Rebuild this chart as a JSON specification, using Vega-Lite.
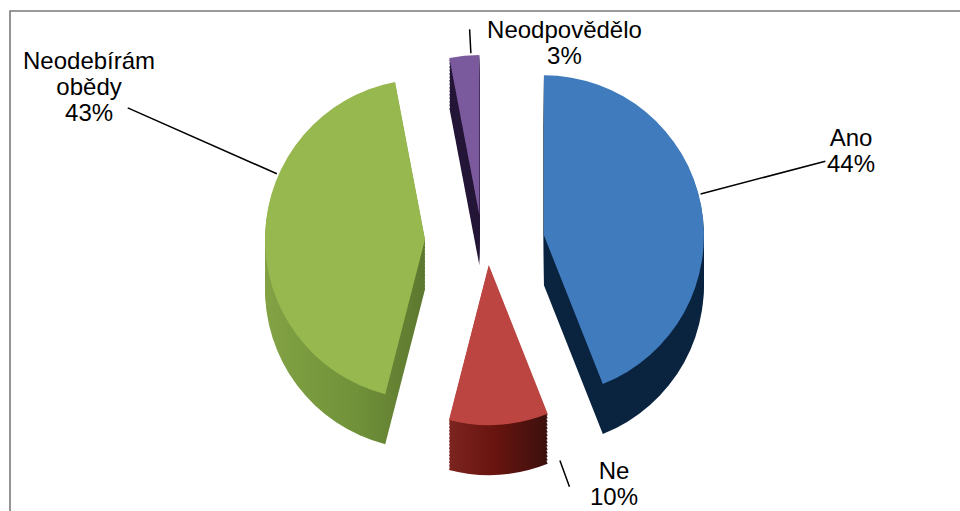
{
  "$schema": "https://vega.github.io/schema/vega-lite/v6.json",
  "width": 960,
  "height": 511,
  "autosize": {"type": "fit", "contains": "padding"},
  "padding": {"left": 9, "top": 10, "right": -2, "bottom": -2},
  "background": "white",
  "config": {"view": {"stroke": null}},
  "params": [
    {"name": "bocniBarvy", "value": {
      "Ano": "#0a2440",
      "Ne": {"gradient": "linear", "x1": 0, "y1": 0, "x2": 1, "y2": 0, "stops": [{"offset": 0, "color": "#7b2420"}, {"offset": 0.45, "color": "#6a140f"}, {"offset": 1, "color": "#3b100d"}]},
      "Neodebírám obědy": {"gradient": "linear", "x1": 0, "y1": 0, "x2": 1, "y2": 0, "stops": [{"offset": 0, "color": "#82a244"}, {"offset": 0.55, "color": "#72923a"}, {"offset": 1, "color": "#5c782f"}]},
      "Neodpovědělo": "#241637"
    }}
  ],
  "data": {
    "values": [
      {"poradi": 1, "kategorie": "Ano", "podil": 44},
      {"poradi": 2, "kategorie": "Ne", "podil": 10},
      {"poradi": 3, "kategorie": "Neodebírám obědy", "podil": 43},
      {"poradi": 4, "kategorie": "Neodpovědělo", "podil": 3}
    ]
  },
  "transform": [
    {"window": [{"op": "sum", "field": "podil", "as": "konec"}], "sort": [{"field": "poradi"}], "frame": [null, 0]},
    {"calculate": "datum.konec - datum.podil", "as": "zacatek"},
    {"calculate": "datum.konec - datum.podil / 2", "as": "stred"},
    {"calculate": "split(datum.kategorie + ' ' + datum.podil + '%', ' ')", "as": "popisek"}
  ],
  "layer": [
    {"transform": [{"filter": "datum.poradi === 1"}],
     "mark": {"type": "rect", "filled": false, "stroke": "#7a7a7a", "strokeWidth": 1.6},
     "encoding": {}},

    {"mark": {"type": "arc", "radius": 160, "xOffset": {"expr": "60*sin(PI*datum.stred/50) - 0.5"}, "yOffset": {"expr": "28.5 - 25*cos(PI*datum.stred/50)"}, "fill": {"expr": "bocniBarvy[datum.kategorie]"}},
     "encoding": {"theta": {"field": "zacatek", "type": "quantitative", "scale": {"domain": [0, 100], "range": [0, 6.283185307179586]}}, "theta2": {"field": "konec"}}},
    {"mark": {"type": "arc", "radius": 160, "xOffset": {"expr": "60*sin(PI*datum.stred/50) - 0.5"}, "yOffset": {"expr": "25 - 25*cos(PI*datum.stred/50)"}, "fill": {"expr": "bocniBarvy[datum.kategorie]"}},
     "encoding": {"theta": {"field": "zacatek", "type": "quantitative"}, "theta2": {"field": "konec"}}},
    {"mark": {"type": "arc", "radius": 160, "xOffset": {"expr": "60*sin(PI*datum.stred/50) - 0.5"}, "yOffset": {"expr": "21.5 - 25*cos(PI*datum.stred/50)"}, "fill": {"expr": "bocniBarvy[datum.kategorie]"}},
     "encoding": {"theta": {"field": "zacatek", "type": "quantitative"}, "theta2": {"field": "konec"}}},
    {"mark": {"type": "arc", "radius": 160, "xOffset": {"expr": "60*sin(PI*datum.stred/50) - 0.5"}, "yOffset": {"expr": "18 - 25*cos(PI*datum.stred/50)"}, "fill": {"expr": "bocniBarvy[datum.kategorie]"}},
     "encoding": {"theta": {"field": "zacatek", "type": "quantitative"}, "theta2": {"field": "konec"}}},
    {"mark": {"type": "arc", "radius": 160, "xOffset": {"expr": "60*sin(PI*datum.stred/50) - 0.5"}, "yOffset": {"expr": "14.5 - 25*cos(PI*datum.stred/50)"}, "fill": {"expr": "bocniBarvy[datum.kategorie]"}},
     "encoding": {"theta": {"field": "zacatek", "type": "quantitative"}, "theta2": {"field": "konec"}}},
    {"mark": {"type": "arc", "radius": 160, "xOffset": {"expr": "60*sin(PI*datum.stred/50) - 0.5"}, "yOffset": {"expr": "11 - 25*cos(PI*datum.stred/50)"}, "fill": {"expr": "bocniBarvy[datum.kategorie]"}},
     "encoding": {"theta": {"field": "zacatek", "type": "quantitative"}, "theta2": {"field": "konec"}}},
    {"mark": {"type": "arc", "radius": 160, "xOffset": {"expr": "60*sin(PI*datum.stred/50) - 0.5"}, "yOffset": {"expr": "7.5 - 25*cos(PI*datum.stred/50)"}, "fill": {"expr": "bocniBarvy[datum.kategorie]"}},
     "encoding": {"theta": {"field": "zacatek", "type": "quantitative"}, "theta2": {"field": "konec"}}},
    {"mark": {"type": "arc", "radius": 160, "xOffset": {"expr": "60*sin(PI*datum.stred/50) - 0.5"}, "yOffset": {"expr": "4 - 25*cos(PI*datum.stred/50)"}, "fill": {"expr": "bocniBarvy[datum.kategorie]"}},
     "encoding": {"theta": {"field": "zacatek", "type": "quantitative"}, "theta2": {"field": "konec"}}},
    {"mark": {"type": "arc", "radius": 160, "xOffset": {"expr": "60*sin(PI*datum.stred/50) - 0.5"}, "yOffset": {"expr": "0.5 - 25*cos(PI*datum.stred/50)"}, "fill": {"expr": "bocniBarvy[datum.kategorie]"}},
     "encoding": {"theta": {"field": "zacatek", "type": "quantitative"}, "theta2": {"field": "konec"}}},
    {"mark": {"type": "arc", "radius": 160, "xOffset": {"expr": "60*sin(PI*datum.stred/50) - 0.5"}, "yOffset": {"expr": "-3 - 25*cos(PI*datum.stred/50)"}, "fill": {"expr": "bocniBarvy[datum.kategorie]"}},
     "encoding": {"theta": {"field": "zacatek", "type": "quantitative"}, "theta2": {"field": "konec"}}},
    {"mark": {"type": "arc", "radius": 160, "xOffset": {"expr": "60*sin(PI*datum.stred/50) - 0.5"}, "yOffset": {"expr": "-6.5 - 25*cos(PI*datum.stred/50)"}, "fill": {"expr": "bocniBarvy[datum.kategorie]"}},
     "encoding": {"theta": {"field": "zacatek", "type": "quantitative"}, "theta2": {"field": "konec"}}},
    {"mark": {"type": "arc", "radius": 160, "xOffset": {"expr": "60*sin(PI*datum.stred/50) - 0.5"}, "yOffset": {"expr": "-10 - 25*cos(PI*datum.stred/50)"}, "fill": {"expr": "bocniBarvy[datum.kategorie]"}},
     "encoding": {"theta": {"field": "zacatek", "type": "quantitative"}, "theta2": {"field": "konec"}}},
    {"mark": {"type": "arc", "radius": 160, "xOffset": {"expr": "60*sin(PI*datum.stred/50) - 0.5"}, "yOffset": {"expr": "-13.5 - 25*cos(PI*datum.stred/50)"}, "fill": {"expr": "bocniBarvy[datum.kategorie]"}},
     "encoding": {"theta": {"field": "zacatek", "type": "quantitative"}, "theta2": {"field": "konec"}}},
    {"mark": {"type": "arc", "radius": 160, "xOffset": {"expr": "60*sin(PI*datum.stred/50) - 0.5"}, "yOffset": {"expr": "-17 - 25*cos(PI*datum.stred/50)"}, "fill": {"expr": "bocniBarvy[datum.kategorie]"}},
     "encoding": {"theta": {"field": "zacatek", "type": "quantitative"}, "theta2": {"field": "konec"}}},
    {"mark": {"type": "arc", "radius": 160, "xOffset": {"expr": "60*sin(PI*datum.stred/50) - 0.5"}, "yOffset": {"expr": "-20 - 25*cos(PI*datum.stred/50)"}, "fill": {"expr": "bocniBarvy[datum.kategorie]"}},
     "encoding": {"theta": {"field": "zacatek", "type": "quantitative"}, "theta2": {"field": "konec"}}},

    {"mark": {"type": "arc", "radius": 160, "xOffset": {"expr": "60*sin(PI*datum.stred/50) - 0.5"}, "yOffset": {"expr": "-21.5 - 25*cos(PI*datum.stred/50)"}},
     "encoding": {
       "theta": {"field": "zacatek", "type": "quantitative"},
       "theta2": {"field": "konec"},
       "color": {"field": "kategorie", "type": "nominal", "legend": null,
                 "scale": {"domain": ["Ano", "Ne", "Neodebírám obědy", "Neodpovědělo"], "range": ["#3f7bbd", "#bd4541", "#97b84f", "#7b599d"]}}
     }},

    {"transform": [{"filter": "datum.kategorie === 'Neodpovědělo'"}],
     "mark": {"type": "arc", "radius": 186, "radius2": 162, "thetaOffset": 0.0419, "theta2Offset": 0.0419, "xOffset": {"expr": "60*sin(PI*datum.stred/50) - 0.5"}, "yOffset": {"expr": "-21.5 - 25*cos(PI*datum.stred/50)"}, "filled": false, "stroke": "#000000", "strokeWidth": 1.5},
     "encoding": {"theta": {"field": "stred", "type": "quantitative", "stack": null}, "theta2": {"field": "stred"}}},
    {"transform": [{"filter": "datum.kategorie === 'Neodebírám obědy'"}],
     "mark": {"type": "arc", "radius": 325, "radius2": 162, "thetaOffset": 0.3845, "theta2Offset": 0.3845, "xOffset": {"expr": "60*sin(PI*datum.stred/50) - 0.5"}, "yOffset": {"expr": "-21.5 - 25*cos(PI*datum.stred/50)"}, "filled": false, "stroke": "#000000", "strokeWidth": 1.5},
     "encoding": {"theta": {"field": "stred", "type": "quantitative", "stack": null}, "theta2": {"field": "stred"}}},
    {"transform": [{"filter": "datum.kategorie === 'Ano'"}],
     "mark": {"type": "arc", "radius": 291, "radius2": 162, "thetaOffset": -0.0691, "theta2Offset": -0.0691, "xOffset": {"expr": "60*sin(PI*datum.stred/50) - 0.5"}, "yOffset": {"expr": "-21.5 - 25*cos(PI*datum.stred/50)"}, "filled": false, "stroke": "#000000", "strokeWidth": 1.5},
     "encoding": {"theta": {"field": "stred", "type": "quantitative", "stack": null}, "theta2": {"field": "stred"}}},
    {"transform": [{"filter": "datum.kategorie === 'Ne'"}],
     "mark": {"type": "arc", "radius": 236, "radius2": 208, "thetaOffset": -0.2862, "theta2Offset": -0.2862, "xOffset": {"expr": "60*sin(PI*datum.stred/50) - 0.5"}, "yOffset": {"expr": "-21.5 - 25*cos(PI*datum.stred/50)"}, "filled": false, "stroke": "#000000", "strokeWidth": 1.5},
     "encoding": {"theta": {"field": "stred", "type": "quantitative", "stack": null}, "theta2": {"field": "stred"}}},

    {"transform": [{"filter": "datum.kategorie === 'Neodpovědělo'"}],
     "mark": {"type": "text", "radius": 207.5, "thetaOffset": 0.5168, "xOffset": {"expr": "60*sin(PI*datum.stred/50) - 0.5"}, "yOffset": {"expr": "-16.5 - 25*cos(PI*datum.stred/50)"}, "font": "Liberation Sans", "fontSize": 24, "lineHeight": 26, "align": "center", "baseline": "middle", "color": "#000000"},
     "encoding": {"theta": {"field": "stred", "type": "quantitative", "stack": null}, "text": {"field": "popisek"}}},
    {"transform": [{"filter": "datum.kategorie === 'Neodebírám obědy'"}],
     "mark": {"type": "text", "radius": 382.1, "thetaOffset": 0.465, "xOffset": {"expr": "60*sin(PI*datum.stred/50) - 0.5"}, "yOffset": {"expr": "-16.5 - 25*cos(PI*datum.stred/50)"}, "font": "Liberation Sans", "fontSize": 24, "lineHeight": 26, "align": "center", "baseline": "middle", "color": "#000000"},
     "encoding": {"theta": {"field": "stred", "type": "quantitative", "stack": null}, "text": {"field": "popisek"}}},
    {"transform": [{"filter": "datum.kategorie === 'Ano'"}],
     "mark": {"type": "text", "radius": 323.5, "thetaOffset": -0.1316, "xOffset": {"expr": "60*sin(PI*datum.stred/50) - 0.5"}, "yOffset": {"expr": "-16.5 - 25*cos(PI*datum.stred/50)"}, "font": "Liberation Sans", "fontSize": 24, "lineHeight": 26, "align": "center", "baseline": "middle", "color": "#000000"},
     "encoding": {"theta": {"field": "stred", "type": "quantitative", "stack": null}, "text": {"field": "popisek"}}},
    {"transform": [{"filter": "datum.kategorie === 'Ne'"}],
     "mark": {"type": "text", "radius": 238.1, "thetaOffset": -0.491, "xOffset": {"expr": "60*sin(PI*datum.stred/50) - 0.5"}, "yOffset": {"expr": "-16.5 - 25*cos(PI*datum.stred/50)"}, "font": "Liberation Sans", "fontSize": 24, "lineHeight": 26, "align": "center", "baseline": "middle", "color": "#000000"},
     "encoding": {"theta": {"field": "stred", "type": "quantitative", "stack": null}, "text": {"field": "popisek"}}}
  ]
}
